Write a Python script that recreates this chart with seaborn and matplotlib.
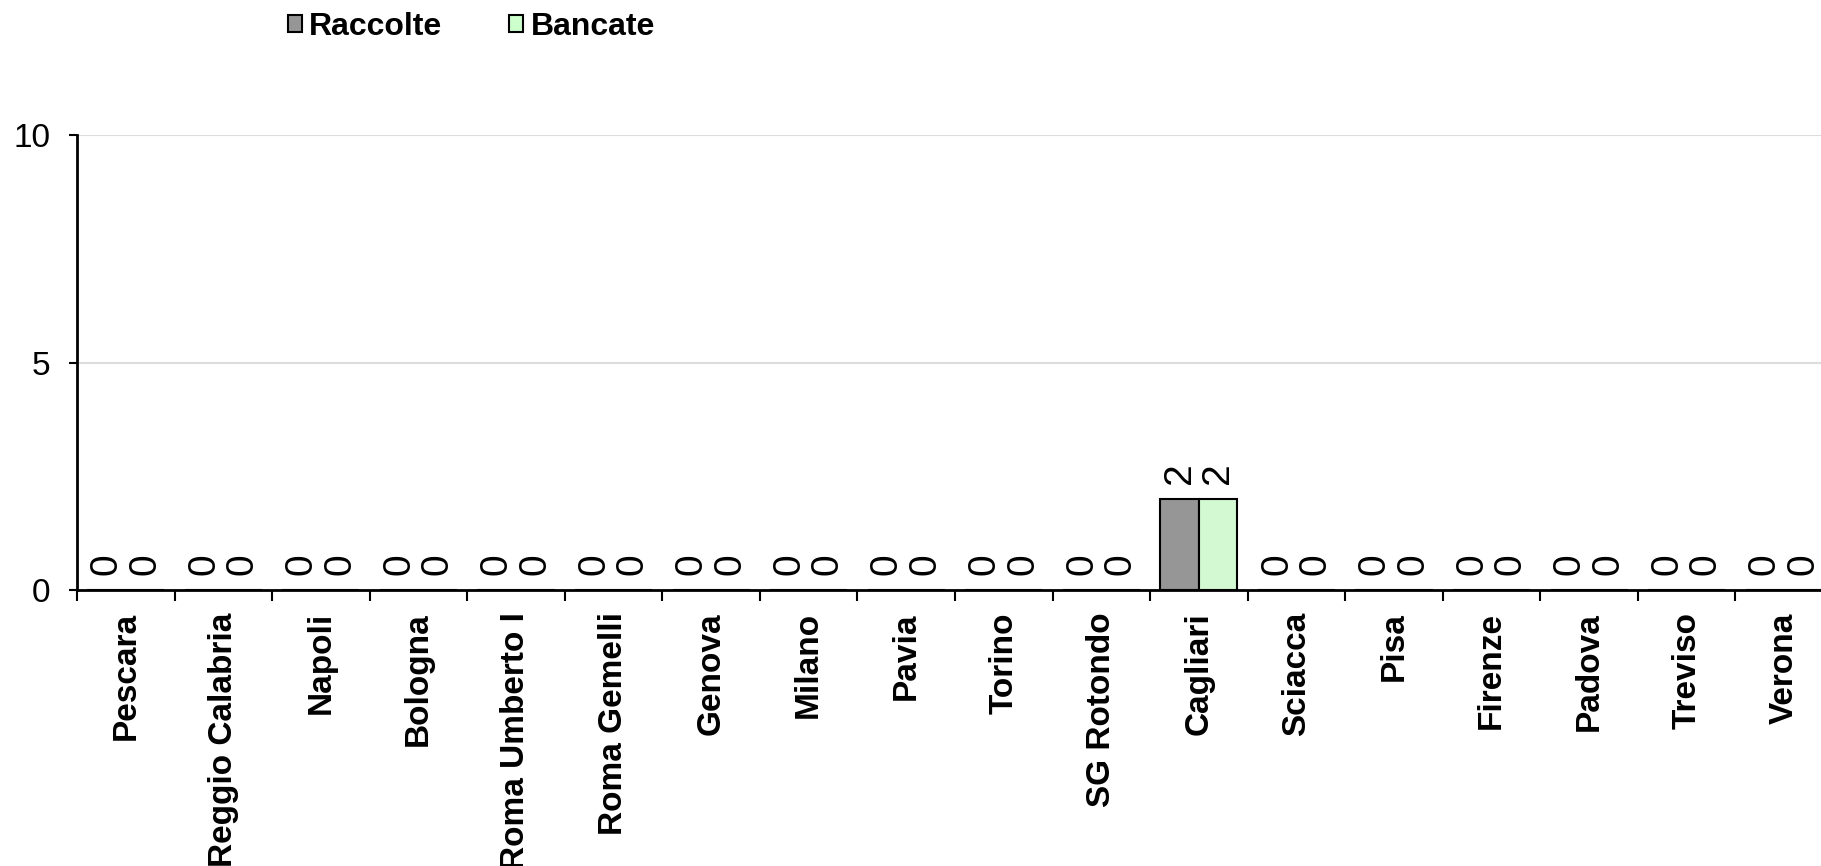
import matplotlib
matplotlib.use("Agg")
import matplotlib.pyplot as plt
import seaborn as sns
import pandas as pd
from matplotlib.patches import Patch

centri = ["Pescara", "Reggio Calabria", "Napoli", "Bologna", "Roma Umberto I",
          "Roma Gemelli", "Genova", "Milano", "Pavia", "Torino", "SG Rotondo",
          "Cagliari", "Sciacca", "Pisa", "Firenze", "Padova", "Treviso", "Verona"]
raccolte = [0, 0, 0, 0, 0, 0, 0, 0, 0, 0, 0, 2, 0, 0, 0, 0, 0, 0]
bancate = [0, 0, 0, 0, 0, 0, 0, 0, 0, 0, 0, 2, 0, 0, 0, 0, 0, 0]
serie = ["Raccolte", "Bancate"]
colori = ["#969696", "#CCFFCC"]
yticks = [0, 5, 10]

df = pd.DataFrame({
    "Centro": centri * 2,
    "Valore": raccolte + bancate,
    "Serie": [serie[0]] * len(centri) + [serie[1]] * len(centri),
})

sns.set_style("white")
plt.rcParams["font.family"] = ["Liberation Sans", "DejaVu Sans"]
plt.rcParams["text.color"] = "black"
plt.rcParams["axes.labelcolor"] = "black"
plt.rcParams["xtick.color"] = "black"
plt.rcParams["ytick.color"] = "black"

fig = plt.figure(figsize=(18.21, 8.66), dpi=100)
ax = fig.add_axes([77 / 1821, 1 - 590 / 866, (1833 - 77) / 1821, (590 - 135) / 866])

sns.barplot(data=df, x="Centro", y="Valore", hue="Serie", palette=colori,
            edgecolor="black", linewidth=1.5, width=0.79, ax=ax, legend=False)

for cont in ax.containers:
    ax.bar_label(cont, fmt="%g", rotation=90, padding=11, fontsize=28, color="black")

ax.set_xlim(-0.5, len(centri) - 0.5)
ax.set_ylim(0, 10)
ax.set_yticks(yticks)
ax.set_xlabel("")
ax.set_ylabel("")
ax.yaxis.grid(True, color="#DDDDDD", linewidth=1.5)
ax.xaxis.grid(False)
ax.set_axisbelow(True)

ax.set_xticks(range(len(centri)))
ax.set_xticklabels(centri, rotation=90, fontsize=24, fontweight="bold", va="top", color="black")
ax.set_xticks([i - 0.5 for i in range(len(centri) + 1)], minor=True)
ax.tick_params(axis="x", which="major", length=0, pad=16, bottom=True)
ax.tick_params(axis="x", which="minor", length=8, width=1.5, color="black",
               direction="out", bottom=True)
ax.tick_params(axis="y", which="major", length=6, width=1.5, color="black",
               direction="out", labelsize=24, pad=13, left=True, labelcolor="black")

for s in ["top", "right"]:
    ax.spines[s].set_visible(False)
for s in ["left", "bottom"]:
    ax.spines[s].set_color("black")
    ax.spines[s].set_linewidth(2)

handles = [Patch(facecolor=c, edgecolor="black", linewidth=1.5, label=l)
           for c, l in zip(colori, serie)]
leg = fig.legend(handles=handles, loc="center left", bbox_to_anchor=(288 / 1821, 1 - 27 / 866),
                 ncol=2, frameon=False, borderpad=0, borderaxespad=0,
                 handlelength=0.44, handleheight=0.44, handletextpad=0.22,
                 columnspacing=2.1, prop={"size": 23, "weight": "bold"})
for t in leg.get_texts():
    t.set_color("black")

fig.savefig("out.png", dpi=100)
